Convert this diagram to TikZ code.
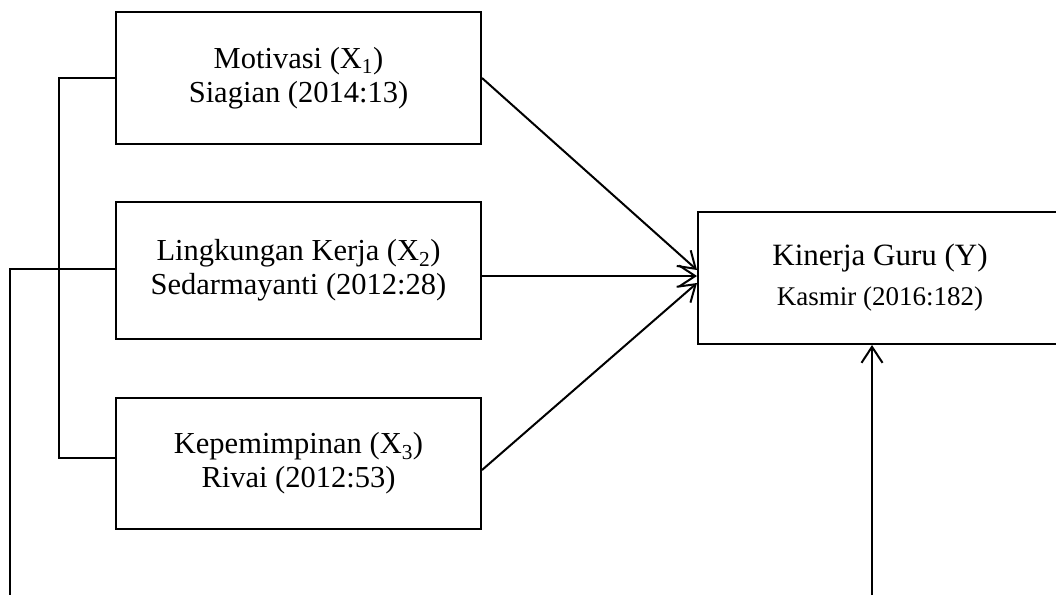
\documentclass[tikz,border=0pt]{standalone}
\usepackage{fontspec}
\setmainfont{Liberation Serif}
\usetikzlibrary{arrows.meta}
\begin{document}
\begin{tikzpicture}[x=1pt,y=-1pt,
  varbox/.style={draw, line width=2pt, minimum width=365pt, align=center, inner sep=0pt,
    font=\fontsize{30.5}{34}\selectfont},
  link/.style={line width=2pt},
  arr/.style={line width=2pt, -{Straight Barb[length=16pt,width=21pt,line width=2pt]}}]
\useasboundingbox (0,0) rectangle (1056,595);
\clip (0,0) rectangle (1056,595);
\node[varbox, minimum height=132pt] (x1) at (298.5,78) {Motivasi (X\textsubscript{1})\\Siagian (2014:13)};
\node[varbox, minimum height=137pt] (x2) at (298.5,270.5) {Lingkungan Kerja (X\textsubscript{2})\\Sedarmayanti (2012:28)};
\node[varbox, minimum height=131pt] (x3) at (298.5,463.5) {Kepemimpinan (X\textsubscript{3})\\Rivai (2012:53)};
\node[varbox, minimum width=364pt, minimum height=132pt, font=\fontsize{31}{40}\selectfont] (y) at (880,278)
  {Kinerja Guru (Y)\\{\fontsize{27}{40}\selectfont Kasmir (2016:182)}};
\coordinate (b1) at (10,595);
\coordinate (b2) at (872,595);
\draw[arr] (x1.east) -- ([yshift=8pt]y.west);
\draw[arr] ([yshift=-5.5pt]x2.east) -- ([yshift=2pt]y.west);
\draw[arr] ([yshift=-6.5pt]x3.east) -- ([yshift=-5pt]y.west);
\draw[link] (x1.west) -- ++(-56,0) |- ([yshift=5.5pt]x3.west);
\draw[link] ([yshift=1.5pt]x2.west) -| (b1);
\draw[arr] (b2) -- (b2 |- y.south);
\end{tikzpicture}
\end{document}
